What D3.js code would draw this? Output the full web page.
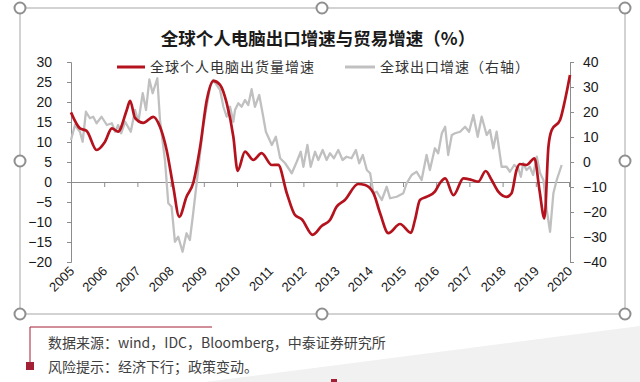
<!DOCTYPE html>
<html><head><meta charset="utf-8">
<script src="https://cdn.jsdelivr.net/npm/d3@7"></script>
<style>
html,body{margin:0;padding:0;background:#fff;}
svg{display:block;}
</style></head>
<body>
<svg id="c" width="640" height="382"></svg>
<script>
// ---- data ----
const titleText = "全球个人电脑出口增速与贸易增速（%）";
const seriesNames = ["全球个人电脑出货量增速", "全球出口增速（右轴）"];
const yearLabels = ["2005","2006","2007","2008","2009","2010","2011","2012","2013","2014","2015","2016","2017","2018","2019","2020"];
const leftTicks = [-20,-15,-10,-5,0,5,10,15,20,25,30];
const rightTicks = [-40,-30,-20,-10,0,10,20,30,40];
const noteLines = ["数据来源：wind，IDC，Bloomberg，中泰证券研究所", "风险提示：经济下行；政策变动。"];

// PC shipments growth (left axis)
const pcDates = [2005.00,2005.27,2005.47,2005.77,2006.02,2006.23,2006.42,2006.68,2006.78,2006.93,
  2007.18,2007.48,2007.68,2007.88,2008.08,2008.26,2008.48,2008.68,2008.89,2009.09,
  2009.29,2009.49,2009.69,2009.89,2010.02,2010.24,2010.49,2010.74,2011.05,2011.24,
  2011.50,2011.75,2011.95,2012.28,2012.55,2012.80,2013.00,2013.25,2013.65,2013.86,
  2014.11,2014.31,2014.56,2014.91,2015.24,2015.36,2015.51,2015.71,2015.96,2016.11,
  2016.27,2016.52,2016.82,2017.07,2017.27,2017.49,2017.67,2017.87,2018.12,2018.27,
  2018.42,2018.52,2018.72,2018.96,2019.11,2019.26,2019.38,2019.48,2019.73,2019.88,2020.03];
const pcValues = [17.4,13.4,12.8,8.0,10.0,13.4,12.6,18.0,20.3,16.0,
  14.8,16.3,13.8,8.0,-1.2,-8.7,-3.7,-0.3,8.8,20.5,
  25.3,24.3,19.7,11.3,2.8,7.6,5.5,7.2,4.25,4.3,
  -2.8,-8.3,-9.3,-13.2,-11.0,-9.5,-6.2,-4.5,-0.5,-0.75,
  -2.8,-7.8,-12.8,-10.5,-12.7,-9.5,-4.5,-3.7,-2.4,-0.3,
  0.9,-3.3,0.9,0.5,0.1,2.75,0.5,-2.4,-3.7,-2.8,
  3.0,4.5,4.25,5.9,-2.0,-9.1,8.8,13.0,15.5,20.5,26.75];

// World export growth (right axis)
const tradeDates = [2005.00,2005.12,2005.27,2005.35,2005.45,2005.57,2005.67,2005.77,2005.92,2006.08,
  2006.23,2006.33,2006.42,2006.51,2006.63,2006.80,2006.93,2007.03,2007.16,2007.26,
  2007.36,2007.46,2007.60,2007.68,2007.83,2007.93,2008.03,2008.13,2008.23,2008.36,
  2008.48,2008.58,2008.68,2008.83,2008.98,2009.19,2009.29,2009.49,2009.59,2009.69,
  2009.79,2009.89,2009.94,2010.04,2010.14,2010.24,2010.34,2010.44,2010.54,2010.67,
  2010.79,2010.87,2011.05,2011.17,2011.30,2011.45,2011.65,2011.80,2011.92,2012.00,
  2012.12,2012.22,2012.35,2012.45,2012.58,2012.70,2012.80,2012.92,2013.05,2013.18,
  2013.30,2013.45,2013.58,2013.68,2013.79,2013.91,2014.01,2014.11,2014.21,2014.36,
  2014.51,2014.61,2014.81,2015.01,2015.11,2015.26,2015.41,2015.56,2015.71,2015.81,
  2015.96,2016.06,2016.17,2016.27,2016.36,2016.47,2016.57,2016.72,2016.87,2016.99,
  2017.12,2017.25,2017.37,2017.52,2017.62,2017.72,2017.82,2017.97,2018.12,2018.22,
  2018.35,2018.47,2018.55,2018.62,2018.72,2018.82,2018.92,2019.03,2019.13,2019.23,
  2019.33,2019.43,2019.53,2019.63,2019.78];
const tradeValues = [8.8,14.8,12.1,8.1,20.1,17.5,18.1,15.5,18.1,14.8,
  15.5,12.1,14.8,11.5,16.1,12.1,20.8,16.1,27.5,20.8,
  33.0,27.5,33.5,16.8,0.8,-16.5,-17.9,-31.9,-29.9,-35.9,
  -28.5,-31.2,-20.5,-3.2,14.1,30.1,32.8,28.8,22.1,18.1,
  22.1,16.1,20.8,23.5,22.1,24.8,22.8,29.1,22.1,26.8,
  18.1,12.1,6.8,10.1,1.5,-0.5,-4.5,0.1,4.1,-1.9,
  6.8,-1.9,4.1,0.8,4.8,0.8,3.5,1.5,4.8,0.8,
  2.1,1.5,4.8,-0.5,2.8,-3.2,-4.5,-12.5,-11.9,-15.2,
  -9.9,-14.5,-13.9,-12.5,-8.5,-5.2,-3.9,-7.2,2.8,-3.2,
  5.5,3.5,11.5,14.1,2.8,10.8,11.5,12.1,14.1,12.1,
  18.8,10.1,18.1,10.8,12.8,5.5,12.1,-1.9,-1.9,-3.9,
  -1.2,-2.5,-5.9,-0.5,-3.2,-1.9,-5.2,2.1,-4.5,-7.2,
  -19.2,-27.9,-12.5,-7.2,-1.2];

// ---- drawing ----
const svg = d3.select("#c");
const red = "#b4121d", gray = "#c0c0c0", axisCol = "#8c8c8c", txt = "#1a1a1a";
const numFont = "'Liberation Sans', Arial, sans-serif";
const cjkFont = "'Noto Sans CJK SC', 'Noto Sans', sans-serif";

// background diagonal
svg.append("polygon").attr("points", "205,382 640,326 640,382").attr("fill", "#f1f1f1");
svg.append("rect").attr("x", 331).attr("y", 379).attr("width", 6).attr("height", 3).attr("fill", "#a31f34");

// frame
svg.append("rect").attr("x", 20).attr("y", 8).attr("width", 605).attr("height", 306)
  .attr("fill", "none").attr("stroke", "#a6a6a6").attr("stroke-width", 1);

const x = d3.scaleLinear().domain([2005, 2020]).range([71, 569]);
const yL = d3.scaleLinear().domain([-20, 30]).range([262, 62]);
const yR = d3.scaleLinear().domain([-40, 40]).range([262, 62]);

// title
svg.append("text").attr("x", 318).attr("y", 45).attr("text-anchor", "middle")
  .attr("font-family", cjkFont).attr("font-weight", "bold").attr("font-size", 17.5)
  .attr("fill", txt).text(titleText);

// left axis
const gL = svg.append("g").attr("transform", "translate(71,0)")
  .call(d3.axisLeft(yL).tickValues(leftTicks).tickSize(4).tickSizeOuter(4).tickPadding(15).tickFormat(d3.format("")));
// right axis
const gR = svg.append("g").attr("transform", "translate(570,0)")
  .call(d3.axisRight(yR).tickValues(rightTicks).tickSize(4).tickSizeOuter(4).tickPadding(9).tickFormat(d3.format("")));
[gL, gR].forEach(g => {
  g.selectAll("path,line").attr("stroke", axisCol);
  g.selectAll("text").attr("font-family", numFont).attr("font-size", 14).attr("fill", txt);
});
gR.selectAll("text").attr("text-anchor", "start");

// zero axis with year ticks
const years = yearLabels.map(Number);
const gX = svg.append("g").attr("transform", `translate(0,${yL(0)})`)
  .call(d3.axisBottom(x).tickValues(years).tickSize(5).tickSizeOuter(0).tickFormat(""));
gX.selectAll("path,line").attr("stroke", axisCol);

// year labels
svg.append("g").selectAll("text").data(yearLabels).join("text")
  .attr("transform", d => `translate(${x(+d) + 4},272) rotate(-45)`)
  .attr("text-anchor", "end").attr("font-family", numFont).attr("font-size", 13)
  .attr("fill", txt).text(d => d);

// lines
const tradeData = tradeDates.map((d, i) => [d, tradeValues[i]]);
const pcData = pcDates.map((d, i) => [d, pcValues[i]]);
svg.append("path").datum(tradeData)
  .attr("d", d3.line().x(d => x(d[0])).y(d => yR(d[1])).curve(d3.curveLinear))
  .attr("fill", "none").attr("stroke", gray).attr("stroke-width", 2.3).attr("stroke-linejoin", "round");
svg.append("path").datum(pcData)
  .attr("d", d3.line().x(d => x(d[0])).y(d => yL(d[1])).curve(d3.curveMonotoneX))
  .attr("fill", "none").attr("stroke", red).attr("stroke-width", 2.7).attr("stroke-linejoin", "round");

// legend
const legend = [
  {name: seriesNames[0], color: red, x1: 117, x2: 145, tx: 150},
  {name: seriesNames[1], color: gray, x1: 345, x2: 375, tx: 380}
];
const lg = svg.append("g");
lg.selectAll("line").data(legend).join("line")
  .attr("x1", d => d.x1).attr("x2", d => d.x2).attr("y1", 67).attr("y2", 67)
  .attr("stroke", d => d.color).attr("stroke-width", 3);
lg.selectAll("text").data(legend).join("text")
  .attr("x", d => d.tx).attr("y", 72).attr("font-family", cjkFont).attr("font-size", 14)
  .attr("letter-spacing", 1).attr("fill", "#333").text(d => d.name);

// handles
const hx = [20, 322, 625], hy = [8, 161, 314];
const handles = [];
hx.forEach(a => hy.forEach(b => { if (!(a === 322 && b === 161)) handles.push([a, b]); }));
svg.append("g").selectAll("circle").data(handles).join("circle")
  .attr("cx", d => d[0]).attr("cy", d => d[1]).attr("r", 5.5)
  .attr("fill", "#fff").attr("stroke", "#8f8f8f").attr("stroke-width", 2);

// notes
svg.append("line").attr("x1", 30).attr("x2", 212).attr("y1", 327).attr("y2", 327).attr("stroke", "#a31f34").attr("stroke-width", 1);
svg.append("line").attr("x1", 30).attr("x2", 30).attr("y1", 327).attr("y2", 363).attr("stroke", "#a31f34").attr("stroke-width", 1);
svg.append("rect").attr("x", 26).attr("y", 362).attr("width", 8).attr("height", 8).attr("fill", "#a31f34");
svg.append("g").selectAll("text").data(noteLines).join("text")
  .attr("x", 48).attr("y", (d, i) => 348 + i * 24)
  .attr("font-family", cjkFont).attr("font-size", 14).attr("fill", "#404040").text(d => d);
</script>
</body></html>
